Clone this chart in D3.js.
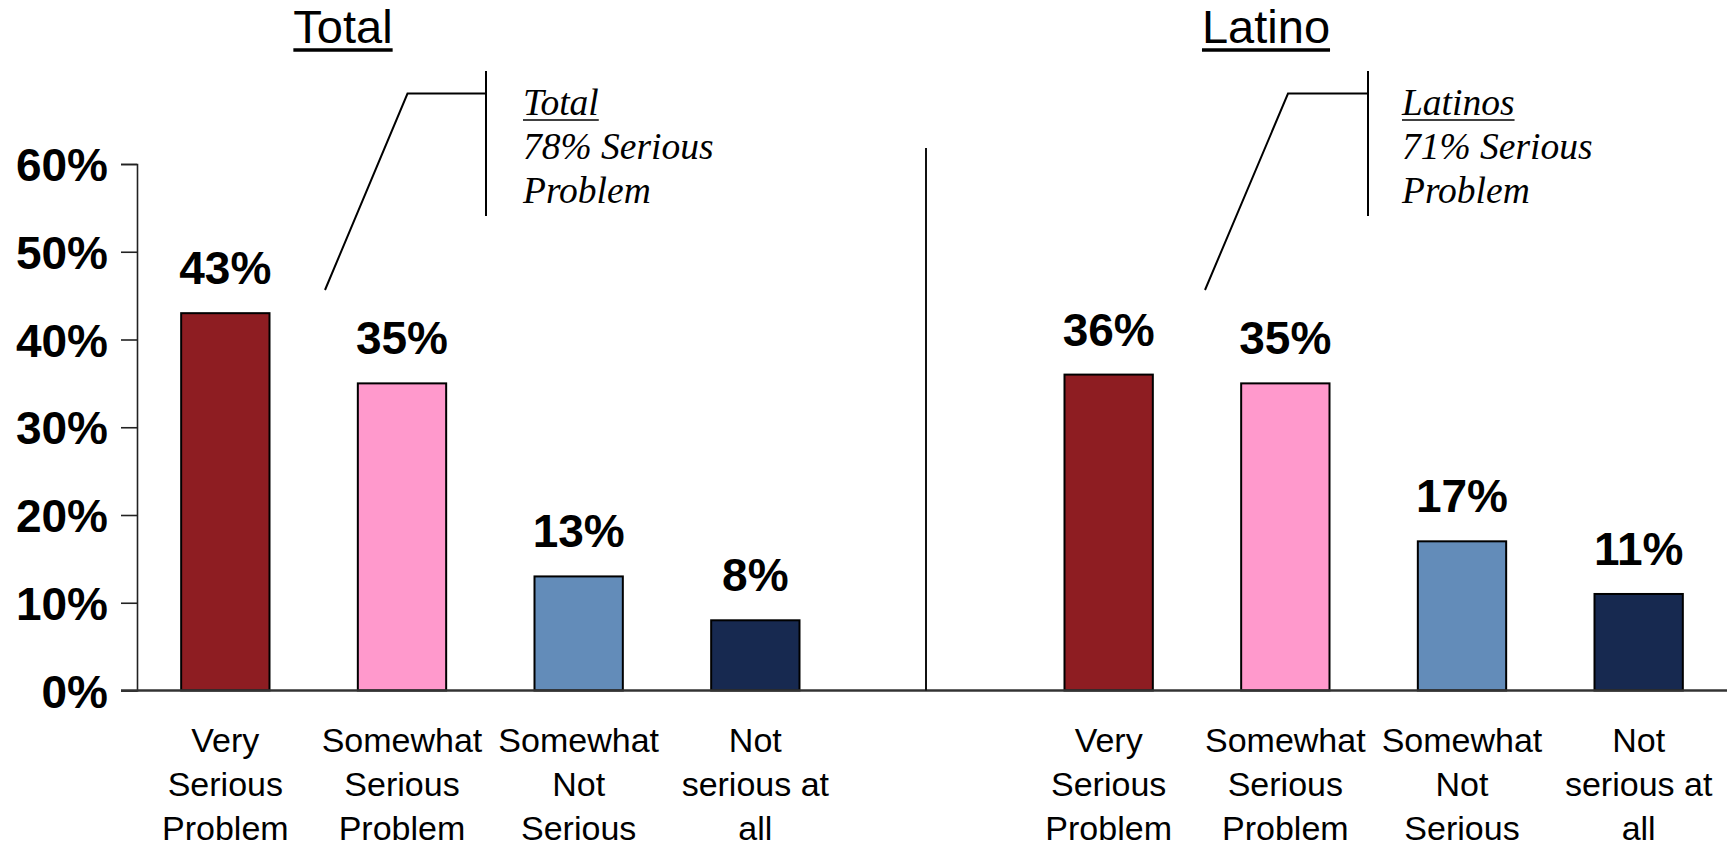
<!DOCTYPE html>
<html>
<head>
<meta charset="utf-8">
<script src="https://cdn.jsdelivr.net/npm/d3@7"></script>
<style>
  html, body { margin: 0; padding: 0; background: #fff; }
  svg { display: block; }
</style>
</head>
<body>
<svg id="chart" width="1727" height="846"></svg>
<script>
// ---- data ----
const categories = ["Very Serious Problem", "Somewhat Serious Problem", "Somewhat Not Serious", "Not serious at all"];
const categoryLines = [["Very", "Serious", "Problem"], ["Somewhat", "Serious", "Problem"], ["Somewhat", "Not", "Serious"], ["Not", "serious at", "all"]];
const totalValues = [43, 35, 13, 8];
const latinoValues = [36, 35, 17, 11];
const yTicks = [0, 10, 20, 30, 40, 50, 60];
const groups = ["Total", "Latino"];
const annotationTitles = ["Total", "Latinos"];
const annotationValues = [78, 71];
const barColors = ["#8E1D22", "#FF99CC", "#638CB9", "#172950"];

// ---- build table ----
const slots = [];
categories.forEach((c, i) => slots.push({ key: "T" + i, group: "Total", cat: i, value: totalValues[i] }));
slots.push({ key: "gap", group: null });
categories.forEach((c, i) => slots.push({ key: "L" + i, group: "Latino", cat: i, value: latinoValues[i] }));
const bars = slots.filter(d => d.group);

const svg = d3.select("#chart");
const W = 1727, H = 846;
const plotLeft = 137, plotRight = 1727, yBottom = 690.5, yTop = 164;

const x = d3.scaleBand().domain(slots.map(d => d.key)).range([plotLeft, plotRight])
  .paddingInner(0.5).paddingOuter(0.25);
const y = d3.scaleLinear().domain([0, 60]).range([yBottom, yTop]);

// y axis
const yAxis = d3.axisLeft(y).tickValues(yTicks).tickFormat(d => d + "%").tickSize(16).tickPadding(13);
const gy = svg.append("g").attr("transform", `translate(${plotLeft},0)`).call(yAxis);
gy.select(".domain").attr("stroke", "#222").attr("stroke-width", 1.6);
gy.selectAll(".tick line").attr("stroke", "#222").attr("stroke-width", 1.6);
gy.selectAll(".tick text")
  .attr("font-family", "Arial, 'Liberation Sans', sans-serif")
  .attr("font-weight", "bold").attr("font-size", 46).attr("fill", "#000")
  .attr("dy", "0.36em");

// bars
svg.append("g").selectAll("rect").data(bars).join("rect")
  .attr("x", d => x(d.key))
  .attr("y", d => y(d.value))
  .attr("width", x.bandwidth())
  .attr("height", d => y(0) - y(d.value))
  .attr("fill", d => barColors[d.cat])
  .attr("stroke", "#000").attr("stroke-width", 2);

// baseline (x axis)
svg.append("line").attr("x1", plotLeft - 16).attr("x2", W)
  .attr("y1", y(0)).attr("y2", y(0))
  .attr("stroke", "#333").attr("stroke-width", 2.4);

// value labels
svg.append("g").selectAll("text").data(bars).join("text")
  .attr("x", d => x(d.key) + x.bandwidth() / 2)
  .attr("y", d => y(d.value) - 29)
  .attr("text-anchor", "middle")
  .attr("font-family", "Arial, 'Liberation Sans', sans-serif")
  .attr("font-weight", "bold").attr("font-size", 46).attr("fill", "#000")
  .text(d => d.value + "%");

// category labels
const cat = svg.append("g").selectAll("text").data(bars).join("text")
  .attr("text-anchor", "middle")
  .attr("font-family", "Arial, 'Liberation Sans', sans-serif")
  .attr("font-size", 34).attr("fill", "#000");
cat.each(function(d) {
  const t = d3.select(this);
  categoryLines[d.cat].forEach((ln, i) => {
    t.append("tspan").attr("x", x(d.key) + x.bandwidth() / 2)
      .attr("y", 752 + i * 44).text(ln);
  });
});

// divider
svg.append("line").attr("x1", 926).attr("x2", 926).attr("y1", 148).attr("y2", y(0))
  .attr("stroke", "#111").attr("stroke-width", 2);

// group titles
const titleX = [343, 1266];
groups.forEach((g, i) => {
  const t = svg.append("text").attr("x", titleX[i]).attr("y", 43)
    .attr("text-anchor", "middle")
    .attr("font-family", "Arial, 'Liberation Sans', sans-serif")
    .attr("font-size", 47).attr("fill", "#000").text(g);
  const bb = t.node().getBBox();
  svg.append("line").attr("x1", bb.x).attr("x2", bb.x + bb.width)
    .attr("y1", 50).attr("y2", 50).attr("stroke", "#000").attr("stroke-width", 3.5);
});

// annotations (bracket + italic text)
const ann = [
  { start: [325, 290], elbow: [407.5, 93.6], vx: 486, tx: 523 },
  { start: [1205, 290], elbow: [1288, 93.6], vx: 1368, tx: 1402 }
];
ann.forEach((a, i) => {
  svg.append("path")
    .attr("d", `M${a.start[0]},${a.start[1]} L${a.elbow[0]},${a.elbow[1]} L${a.vx},${a.elbow[1]}`)
    .attr("fill", "none").attr("stroke", "#000").attr("stroke-width", 2);
  svg.append("line").attr("x1", a.vx).attr("x2", a.vx).attr("y1", 71).attr("y2", 216)
    .attr("stroke", "#000").attr("stroke-width", 2);
  const lines = [annotationTitles[i], annotationValues[i] + "% Serious", "Problem"];
  const g = svg.append("g");
  lines.forEach((ln, j) => {
    const t = g.append("text").attr("x", a.tx).attr("y", 115 + j * 44)
      .attr("font-family", "'Palatino Linotype', 'Book Antiqua', Palatino, 'Liberation Serif', serif")
      .attr("font-style", "italic").attr("font-size", 37.5).attr("fill", "#000").text(ln);
    if (j === 0) {
      const bb = t.node().getBBox();
      g.append("line").attr("x1", a.tx).attr("x2", bb.x + bb.width)
        .attr("y1", 120).attr("y2", 120).attr("stroke", "#000").attr("stroke-width", 1.6);
    }
  });
});
</script>
</body>
</html>
